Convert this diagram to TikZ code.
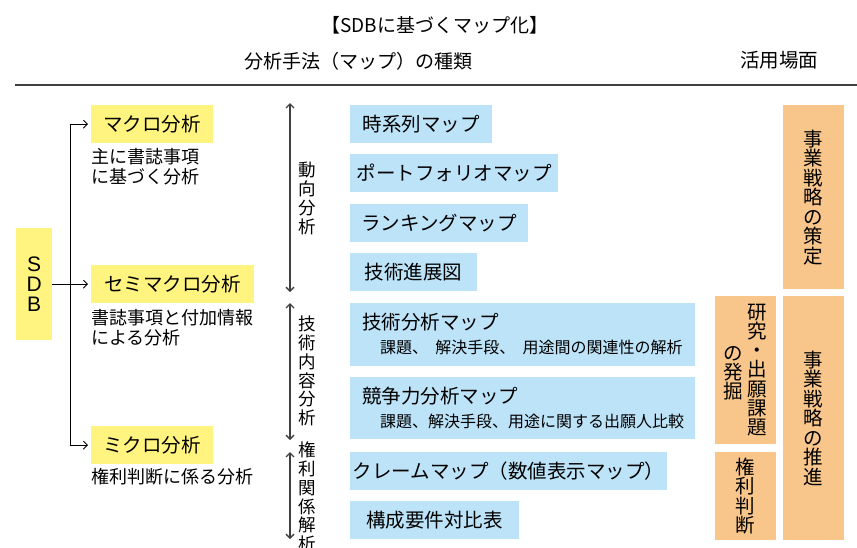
\documentclass[tikz,border=0pt]{standalone}
\usepackage{fontspec}
\setmainfont{Noto Sans CJK JP}
\newfontfamily\latinsans{Liberation Sans}
\usetikzlibrary{arrows.meta,calc}
\definecolor{ylw}{HTML}{FFF47F}
\definecolor{blu}{HTML}{BDE3F8}
\definecolor{org}{HTML}{F8C58A}
\definecolor{lin}{HTML}{404040}
\newcommand{\fs}[2]{\fontsize{#1}{#2}\selectfont}
\tikzset{
  box/.style={inner sep=0, anchor=north west, minimum height=38, font=\fs{19.5}{22}},
  ybox/.style={box, fill=ylw},
  bbox/.style={box, fill=blu},
  obox/.style={inner sep=0, anchor=north west, fill=org, align=center, font=\fs{19.5}{19.5}},
  desc/.style={anchor=west, align=left, inner sep=0, font=\fs{18}{20}},
  vlab/.style={align=center, inner sep=0, font=\fs{17.5}{18.8}},
  main/.style={anchor=west, inner sep=0, font=\fs{19.5}{22}},
  sub/.style={anchor=west, inner sep=0, font=\fs{16}{18}},
  tree/.style={line width=0.9pt, black},
  tarr/.style={tree, -{Straight Barb[length=4pt,width=8pt]}, shorten >=3pt},
  darr/.style={line width=1.4pt, lin, {Straight Barb[length=4pt,width=8pt]}-{Straight Barb[length=4pt,width=8pt]}},
}
\begin{document}
\begin{tikzpicture}[x=1pt,y=-1pt]
\useasboundingbox (0,0) rectangle (857,547);
% headers
\node[font=\fs{19}{22}] (title) at (435,25) {【SDBに基づくマップ化】};
\node[font=\fs{19}{22}] (hd1) at (358,61) {分析手法（マップ）の種類};
\node[font=\fs{19.5}{22}] (hd2) at (779,60) {活用場面};
\coordinate (rl) at (15,85);
\coordinate (rr) at (857,85);
\draw[line width=1.2pt, lin] (rl) -- (rr);
% left tree
\node[fill=ylw, inner sep=0, anchor=north west, minimum width=36, minimum height=112, align=center, font=\latinsans\fs{21}{20}] (sdb) at (16,228) {S\\D\\B};
\node[ybox, minimum width=122] (macro) at (91,105) {マクロ分析};
\node[ybox, minimum width=163] (semi) at (91,265) {セミマクロ分析};
\node[ybox, minimum width=122] (micro) at (91,426) {ミクロ分析};
\node[desc] (d1) at (91,167) {主に書誌事項\\に基づく分析};
\node[desc] (d2) at (91,328) {書誌事項と付加情報\\による分析};
\node[desc] (d3) at (91,477) {権利判断に係る分析};
\coordinate (jx) at (70,0);
\draw[tree] (macro.west -| jx) -- (micro.west -| jx);
\draw[tarr] (macro.west -| jx) -- (macro.west);
\draw[tarr] (micro.west -| jx) -- (micro.west);
\draw[tarr] (sdb.east |- semi.west) -- (semi.west);
% vertical double arrows
\coordinate (a1t) at (290,103); \coordinate (a1b) at (290,292);
\coordinate (a2t) at (290,303); \coordinate (a2b) at (290,440);
\coordinate (a3t) at (290,452); \coordinate (a3b) at (290,539);
\draw[darr] (a1t) -- (a1b);
\draw[darr] (a2t) -- (a2b);
\draw[darr] (a3t) -- (a3b);
\node[vlab] (v1) at (307,198.5) {動\\向\\分\\析};
\node[vlab] (v2) at (307,371) {技\\術\\内\\容\\分\\析};
\node[vlab] (v3) at (307,497) {権\\利\\関\\係\\解\\析};
% blue boxes
\node[bbox, minimum width=142] (m1) at (350,105) {時系列マップ};
\node[bbox, minimum width=208] (m2) at (350,154) {ポートフォリオマップ};
\node[bbox, minimum width=178] (m3) at (350,204) {ランキングマップ};
\node[bbox, minimum width=127] (m4) at (350,253) {技術進展図};
\node[bbox, minimum width=345, minimum height=63] (m5) at (350,303) {};
\node[main] (m5a) at (362,322) {技術分析マップ};
\node[sub] (m5b) at (380,347) {課題、\hspace{0.45em}解決手段、\hspace{0.45em}用途間の関連性の解析};
\node[bbox, minimum width=345, minimum height=62] (m6) at (350,377) {};
\node[main] (m6a) at (362,396) {競争力分析マップ};
\node[sub] (m6b) at (380,421) {課題、解決手段、用途に関する出願人比較};
\node[bbox, minimum width=317] (m7) at (350,452) {クレームマップ（数値表示マップ）};
\node[bbox, minimum width=169] (m8) at (350,501) {構成要件対比表};
% orange boxes
\node[obox, minimum width=61, minimum height=184] (u1) at (783,105) {事\\業\\戦\\略\\の\\策\\定};
\node[obox, minimum width=61, minimum height=244] (u2) at (783,296) {事\\業\\戦\\略\\の\\推\\進};
\node[obox, minimum width=61, minimum height=148] (u3) at (715,296) {};
\node[vlab, font=\fs{19.5}{19.2}] (u3a) at (757,370) {研\\究\\・\\出\\願\\課\\題};
\node[vlab, font=\fs{19.5}{19.2}] (u3b) at (733,373) {の\\発\\掘};
\node[obox, minimum width=61, minimum height=88] (u4) at (715,452) {権\\利\\判\\断};
\end{tikzpicture}
\end{document}
